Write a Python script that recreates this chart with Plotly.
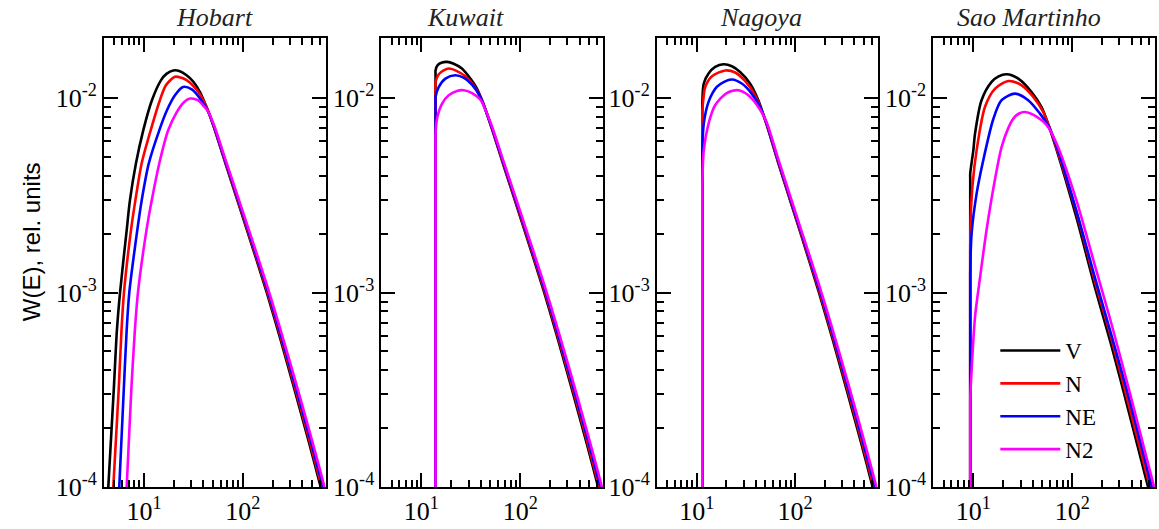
import plotly.graph_objects as go

# ---------------- data ----------------
STATIONS = ["Hobart", "Kuwait", "Nagoya", "Sao Martinho"]
SERIES = ["V", "N", "NE", "N2"]
COLORS = ["#000000", "#ff0000", "#0000ff", "#ff00ff"]

# Hobart
HOB_V_E = [4.36, 4.95, 5.33, 5.73, 6.69, 7.22, 8.30, 9.84, 12.05, 14.9, 16.9, 19.8, 23.1, 27.0, 31.5, 36.8, 44.3, 51, 67, 112, 175, 242, 335, 464, 614, 700]
HOB_V_W = [1.0e-4, 3.15e-4, 6.41e-4, 1.0e-3, 2.09e-3, 2.99e-3, 4.62e-3, 6.84e-3, 9.77e-3, 1.24e-2, 1.335e-2, 1.39e-2, 1.378e-2, 1.313e-2, 1.22e-2, 1.08e-2, 8.67e-3, 7.1e-3, 4.6e-3, 2.05e-3, 1.0e-3, 5.7e-4, 3.15e-4, 1.72e-4, 1.0e-4, 7.7e-5]
HOB_N_E = [4.90, 5.55, 5.93, 6.28, 7.39, 8.2, 9.48, 11.7, 14.5, 16.7, 20.6, 24.0, 27.0, 31.5, 36.8, 44.3, 51, 67, 112, 175, 242, 335, 464, 614, 700]
HOB_N_W = [1.0e-4, 3.15e-4, 6.41e-4, 1.0e-3, 2.09e-3, 2.99e-3, 4.62e-3, 6.84e-3, 9.77e-3, 1.166e-2, 1.29e-2, 1.275e-2, 1.24e-2, 1.16e-2, 1.05e-2, 8.7e-3, 7.15e-3, 4.66e-3, 2.09e-3, 1.03e-3, 5.9e-4, 3.28e-4, 1.8e-4, 1.05e-4, 8.1e-5]
HOB_NE_E = [5.63, 6.25, 6.69, 7.11, 8.56, 9.5, 11.2, 14.3, 17.1, 20.6, 24.9, 30.5, 36.8, 44.3, 51, 67, 112, 175, 242, 335, 464, 614, 700]
HOB_NE_W = [1.0e-4, 3.15e-4, 6.41e-4, 1.0e-3, 2.09e-3, 2.99e-3, 4.62e-3, 6.84e-3, 8.67e-3, 1.036e-2, 1.143e-2, 1.11e-2, 1.0e-2, 8.6e-3, 7.2e-3, 4.72e-3, 2.14e-3, 1.06e-3, 6.1e-4, 3.42e-4, 1.89e-4, 1.11e-4, 8.55e-5]
HOB_N2_E = [6.69, 7.45, 8.1, 8.7, 10.6, 12.0, 14.3, 17.6, 21.5, 25.4, 29.2, 35.1, 40.4, 44.3, 51, 67, 112, 175, 242, 335, 464, 614, 700]
HOB_N2_W = [1.0e-4, 3.15e-4, 6.41e-4, 1.0e-3, 2.09e-3, 2.99e-3, 4.62e-3, 6.84e-3, 8.48e-3, 9.53e-3, 9.96e-3, 9.77e-3, 9.1e-3, 8.6e-3, 7.3e-3, 4.82e-3, 2.2e-3, 1.1e-3, 6.4e-4, 3.62e-4, 2.01e-4, 1.19e-4, 9.2e-5]

# Kuwait (cut-off ~13.9)
KUW_V_E = [13.9, 13.9, 13.9, 14.6, 16.2, 18.2, 21.2, 25.7, 31.3, 36.5, 41.0, 51, 67, 112, 175, 242, 335, 464, 614, 700]
KUW_V_W = [1e-6, 1.34e-2, 1.39e-2, 1.48e-2, 1.528e-2, 1.538e-2, 1.504e-2, 1.422e-2, 1.262e-2, 1.122e-2, 9.77e-3, 7.1e-3, 4.6e-3, 2.05e-3, 1.0e-3, 5.7e-4, 3.15e-4, 1.72e-4, 1.0e-4, 7.7e-5]
KUW_N_E = [13.9, 13.9, 13.9, 15.0, 16.8, 18.9, 22.9, 27.8, 33.7, 41.0, 51, 67, 112, 175, 242, 335, 464, 614, 700]
KUW_N_W = [1e-6, 1.16e-2, 1.213e-2, 1.328e-2, 1.39e-2, 1.422e-2, 1.38e-2, 1.298e-2, 1.166e-2, 9.8e-3, 7.15e-3, 4.66e-3, 2.09e-3, 1.03e-3, 5.9e-4, 3.28e-4, 1.8e-4, 1.05e-4, 8.1e-5]
KUW_NE_E = [13.9, 13.9, 13.9, 15.0, 17.5, 22.0, 26.7, 32.5, 39.4, 51, 67, 112, 175, 242, 335, 464, 614, 700]
KUW_NE_W = [1e-6, 9.6e-3, 1.015e-2, 1.143e-2, 1.262e-2, 1.313e-2, 1.276e-2, 1.175e-2, 1.016e-2, 7.2e-3, 4.72e-3, 2.14e-3, 1.06e-3, 6.1e-4, 3.42e-4, 1.89e-4, 1.11e-4, 8.55e-5]
KUW_N2_E = [13.9, 13.9, 13.9, 14.4, 16.2, 18.9, 22.9, 26.7, 32.5, 39.4, 51, 67, 112, 175, 242, 335, 464, 614, 700]
KUW_N2_W = [1e-6, 5.9e-3, 6.45e-3, 7.86e-3, 9.39e-3, 1.036e-2, 1.091e-2, 1.10e-2, 1.064e-2, 9.85e-3, 7.3e-3, 4.82e-3, 2.2e-3, 1.1e-3, 6.4e-4, 3.62e-4, 2.01e-4, 1.19e-4, 9.2e-5]

# Nagoya (cut-off ~11.4)
NAG_V_E = [11.4, 11.4, 11.4, 11.8, 13.2, 15.4, 18.7, 22.8, 27.6, 34.8, 42.3, 51, 67, 112, 175, 242, 335, 464, 614, 700]
NAG_V_W = [1e-6, 8.9e-3, 9.39e-3, 1.191e-2, 1.34e-2, 1.449e-2, 1.496e-2, 1.462e-2, 1.365e-2, 1.191e-2, 9.77e-3, 7.4e-3, 4.7e-3, 2.07e-3, 1.0e-3, 5.7e-4, 3.15e-4, 1.72e-4, 1.0e-4, 7.7e-5]
NAG_N_E = [11.4, 11.4, 11.4, 11.8, 12.2, 14.3, 19.5, 24.6, 31.0, 39.2, 51, 67, 112, 175, 242, 335, 464, 614, 700]
NAG_N_W = [1e-6, 8.0e-3, 8.5e-3, 1.036e-2, 1.143e-2, 1.298e-2, 1.39e-2, 1.357e-2, 1.227e-2, 1.036e-2, 7.45e-3, 4.76e-3, 2.1e-3, 1.03e-3, 5.9e-4, 3.28e-4, 1.8e-4, 1.05e-4, 8.1e-5]
NAG_NE_E = [11.4, 11.4, 11.4, 11.8, 13.2, 16.0, 19.0, 22.8, 28.7, 36.2, 44.0, 51, 67, 112, 175, 242, 335, 464, 614, 700]
NAG_NE_W = [1e-6, 5.0e-3, 5.41e-3, 7.41e-3, 9.58e-3, 1.143e-2, 1.215e-2, 1.248e-2, 1.191e-2, 1.057e-2, 9.02e-3, 7.5e-3, 4.82e-3, 2.14e-3, 1.06e-3, 6.1e-4, 3.42e-4, 1.89e-4, 1.11e-4, 8.55e-5]
NAG_N2_E = [11.4, 11.4, 11.4, 11.8, 13.2, 15.4, 20.2, 26.5, 33.5, 42.3, 51, 67, 112, 175, 242, 335, 464, 614, 700]
NAG_N2_W = [1e-6, 3.2e-3, 3.5e-3, 5.41e-3, 7.41e-3, 9.2e-3, 1.064e-2, 1.10e-2, 1.036e-2, 9.02e-3, 7.6e-3, 4.92e-3, 2.2e-3, 1.1e-3, 6.4e-4, 3.62e-4, 2.01e-4, 1.19e-4, 9.2e-5]

# Sao Martinho (cut-off ~9.3)
SAO_V_E = [9.3, 9.3, 9.3, 10.0, 10.4, 12.1, 15.3, 18.0, 21.7, 28.5, 38.8, 49, 58, 69, 110, 171, 248, 377, 586, 700]
SAO_V_W = [1e-6, 3.85e-3, 4.1e-3, 5.41e-3, 6.58e-3, 9.77e-3, 1.213e-2, 1.295e-2, 1.328e-2, 1.262e-2, 1.077e-2, 9.0e-3, 7.2e-3, 5.5e-3, 2.45e-3, 1.05e-3, 5.4e-4, 2.4e-4, 1.0e-4, 7.0e-5]
SAO_N_E = [9.3, 9.3, 9.3, 9.4, 9.84, 10.8, 13.1, 16.6, 22.6, 30.8, 40.4, 50.9, 58, 69, 110, 171, 248, 377, 586, 700]
SAO_N_W = [1e-6, 1.55e-3, 1.66e-3, 2.45e-3, 3.64e-3, 5.41e-3, 9.02e-3, 1.122e-2, 1.227e-2, 1.166e-2, 1.016e-2, 8.5e-3, 7.25e-3, 5.6e-3, 2.6e-3, 1.13e-3, 5.85e-4, 2.6e-4, 1.09e-4, 7.6e-5]
SAO_NE_E = [9.3, 9.3, 9.3, 9.6, 10.8, 12.6, 15.9, 19.3, 26.4, 35.9, 47.2, 58, 69, 110, 171, 248, 377, 586, 700]
SAO_NE_W = [1e-6, 1.17e-3, 1.26e-3, 2.01e-3, 3.24e-3, 4.8e-3, 7.8e-3, 9.77e-3, 1.057e-2, 9.77e-3, 8.34e-3, 7.15e-3, 5.75e-3, 2.65e-3, 1.18e-3, 6.1e-4, 2.85e-4, 1.19e-4, 8.4e-5]
SAO_N2_E = [9.3, 9.3, 9.3, 9.5, 10.4, 11.7, 13.6, 16.2, 19.3, 22.5, 25.4, 29.0, 33.3, 43.5, 55, 69, 110, 171, 248, 377, 586, 700]
SAO_N2_W = [1e-6, 2.6e-4, 2.8e-4, 3.6e-4, 7.5e-4, 1.2e-3, 2.1e-3, 3.6e-3, 5.6e-3, 7.0e-3, 7.86e-3, 8.35e-3, 8.5e-3, 8.05e-3, 7.3e-3, 5.9e-3, 3.0e-3, 1.36e-3, 7.0e-4, 3.15e-4, 1.32e-4, 9.3e-5]

X_TICKS = [10, 100]
X_TICKTEXT = ["10<sup>1</sup>", "10<sup>2</sup>"]
Y_TICKS = [1e-4, 1e-3, 1e-2]
Y_TICKTEXT = ["10<sup>-4</sup>", "10<sup>-3</sup>", "10<sup>-2</sup>"]
X_MINOR = [5, 6, 7, 8, 9, 20, 30, 40, 50, 60, 70, 80, 90, 200, 300, 400, 500, 600]
Y_MINOR = [2e-4, 3e-4, 4e-4, 5e-4, 6e-4, 7e-4, 8e-4, 9e-4,
           2e-3, 3e-3, 4e-3, 5e-3, 6e-3, 7e-3, 8e-3, 9e-3]

PANELS = [
    [(HOB_V_E, HOB_V_W), (HOB_N_E, HOB_N_W), (HOB_NE_E, HOB_NE_W), (HOB_N2_E, HOB_N2_W)],
    [(KUW_V_E, KUW_V_W), (KUW_N_E, KUW_N_W), (KUW_NE_E, KUW_NE_W), (KUW_N2_E, KUW_N2_W)],
    [(NAG_V_E, NAG_V_W), (NAG_N_E, NAG_N_W), (NAG_NE_E, NAG_NE_W), (NAG_N2_E, NAG_N2_W)],
    [(SAO_V_E, SAO_V_W), (SAO_N_E, SAO_N_W), (SAO_NE_E, SAO_NE_W), (SAO_N2_E, SAO_N2_W)],
]

# ---------------- layout geometry ----------------
W_PX, H_PX = 1159, 529
ML, MR, MT, MB = 104, 2, 38, 42
PW = W_PX - ML - MR
PH = H_PX - MT - MB
PANEL_PX = [(104, 326), (382, 604), (658, 879), (935, 1157)]
TITLE_CX = [215, 466, 762, 1031]

def px2x(p):
    return (p - ML) / PW

def px2y(p):
    return (H_PX - MB - p) / PH

fig = go.Figure()

for i, panel in enumerate(PANELS):
    sfx = "" if i == 0 else str(i + 1)
    for j, (e, w) in enumerate(panel):
        fig.add_trace(go.Scatter(
            x=e, y=w, mode="lines", name=SERIES[j],
            line=dict(color=COLORS[j], width=2.6, shape="spline", smoothing=0.8),
            xaxis="x" + sfx, yaxis="y" + sfx,
            showlegend=(i == 3),
        ))

axis_common = dict(
    type="log", showline=True, linewidth=2, linecolor="black",
    mirror="allticks", ticks="inside", ticklen=14, tickwidth=2, tickcolor="black",
    showgrid=False, zeroline=False,
    tickfont=dict(family="Liberation Serif", size=26, color="black"),
)

layout = {}
for i in range(4):
    sfx = "" if i == 0 else str(i + 1)
    l, r = PANEL_PX[i]
    layout["xaxis" + sfx] = dict(
        axis_common, domain=[px2x(l), px2x(r)], range=[0.596, 2.838],
        anchor="y" + sfx, tickmode="array", tickvals=X_TICKS, ticktext=X_TICKTEXT,
        minor=dict(tickmode="array", tickvals=X_MINOR, ticks="inside", ticklen=7,
                   tickwidth=1.5, tickcolor="black", showgrid=False),
    )
    layout["yaxis" + sfx] = dict(
        axis_common, domain=[0, 1], range=[-4, -1.69],
        anchor="x" + sfx, tickmode="array", tickvals=Y_TICKS, ticktext=Y_TICKTEXT,
        minor=dict(tickmode="array", tickvals=Y_MINOR, ticks="inside", ticklen=7,
                   tickwidth=1.5, tickcolor="black", showgrid=False),
    )

annotations = []
for i, name in enumerate(STATIONS):
    annotations.append(dict(
        text="<i>" + name + "</i>", xref="paper", yref="paper",
        x=px2x(TITLE_CX[i]), y=px2y(18), xanchor="center", yanchor="middle",
        showarrow=False, font=dict(family="Liberation Serif", size=26, color="#222222"),
    ))
annotations.append(dict(
    text="W(E), rel. units", xref="paper", yref="paper",
    x=px2x(31), y=px2y(242), xanchor="center", yanchor="middle", textangle=-90,
    showarrow=False, font=dict(family="Liberation Sans", size=24, color="black"),
))

fig.update_layout(
    width=W_PX, height=H_PX,
    margin=dict(l=ML, r=MR, t=MT, b=MB),
    plot_bgcolor="white", paper_bgcolor="white",
    annotations=annotations,
    legend=dict(
        x=px2x(997), y=px2y(329), xanchor="left", yanchor="top",
        font=dict(family="Liberation Serif", size=23, color="black"),
        bgcolor="rgba(0,0,0,0)", itemwidth=60, tracegroupgap=0,
    ),
    **layout,
)

fig.write_html("out.html")
